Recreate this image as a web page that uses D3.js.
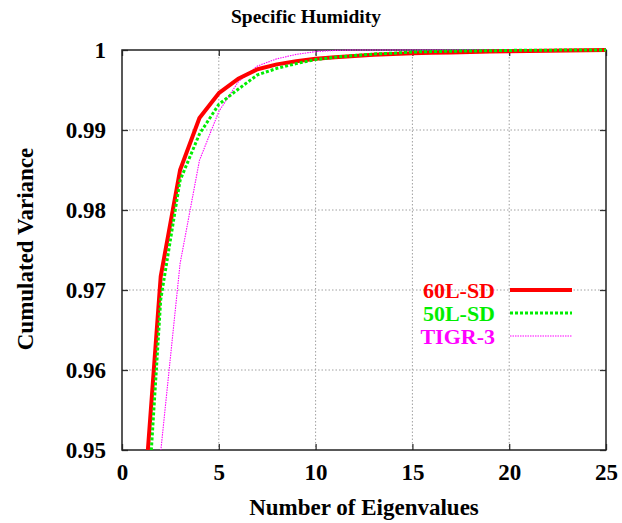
<!DOCTYPE html>
<html><head><meta charset="utf-8">
<script src="https://cdn.jsdelivr.net/npm/d3@7"></script>
<style>body{margin:0;background:#fff}svg{display:block}text{font-family:"Liberation Serif","Times New Roman",serif;font-weight:bold}</style>
</head><body><svg id="c" width="622" height="523"></svg>
<script>
const eigen = d3.range(1, 26);
const sd60 = [0.939,0.9717,0.985,0.9915,0.9946,0.9964,0.9976,0.9982,0.9986,0.9989,0.9991,0.99925,0.9994,0.9995,0.9996,0.99965,0.9997,0.99975,0.9998,0.99985,0.99988,0.9999,0.99995,0.99998,1.0];
const sd50 = [0.930,0.9688,0.9837,0.9895,0.9932,0.9951,0.9969,0.9977,0.9983,0.9988,0.9991,0.9993,0.9995,0.9996,0.99975,0.9998,0.99985,0.99988,0.9999,0.99995,0.99997,0.99998,0.99999,1.0,1.0];
const tigr = [0.91,0.9498,0.9733,0.9862,0.9923,0.9960,0.9980,0.9989,0.99945,0.9998,0.99995,1,1,1,1,1,1,1,1,1,1,1,1,1,1];
const xTicks = [0,5,10,15,20,25];
const yTicks = [0.95,0.96,0.97,0.98,0.99,1];
const seriesNames = ["60L-SD","50L-SD","TIGR-3"];
const seriesColors = ["#ff0000","#00ee00","#ff00ff"];

const L=122,R=606,T=50,B=450;
const svg=d3.select("#c");
const x=d3.scaleLinear().domain([0,25]).range([L,R]);
const y=d3.scaleLinear().domain([0.95,1]).range([B,T]);

// grid
const g=svg.append("g");
g.selectAll(".gx").data(xTicks.slice(1,-1)).join("line")
 .attr("x1",d=>x(d)).attr("x2",d=>x(d)).attr("y1",T).attr("y2",B)
 .attr("stroke","#a0a0a0").attr("stroke-width",1).attr("stroke-dasharray","1.5,2");
g.selectAll(".gy").data(yTicks.slice(1,-1)).join("line")
 .attr("y1",d=>y(d)).attr("y2",d=>y(d)).attr("x1",L).attr("x2",R)
 .attr("stroke","#a0a0a0").attr("stroke-width",1).attr("stroke-dasharray","1.5,2");

// axes (inward ticks, mirrored)
const fs="23px";
const ax=svg.append("g").attr("transform",`translate(0,${B})`)
 .call(d3.axisBottom(x).tickValues(xTicks).tickSize(-6).tickPadding(16).tickFormat(d3.format("d")));
const axT=svg.append("g").attr("transform",`translate(0,${T})`)
 .call(d3.axisTop(x).tickValues(xTicks).tickSize(-6).tickFormat(""));
const ay=svg.append("g").attr("transform",`translate(${L},0)`)
 .call(d3.axisLeft(y).tickValues(yTicks).tickSize(-6).tickPadding(16).tickFormat(d=>d===1?"1":d3.format(".2f")(d)));
const ayR=svg.append("g").attr("transform",`translate(${R},0)`)
 .call(d3.axisRight(y).tickValues(yTicks).tickSize(-6).tickFormat(""));
[ax,axT,ay,ayR].forEach(a=>{a.select(".domain").remove();a.selectAll("line").attr("stroke","#333").attr("stroke-width",1.3);
 a.selectAll("text").attr("font-size",fs).attr("fill","#000").attr("font-family","Liberation Serif").attr("font-weight","bold");});
ax.selectAll("text").attr("dy","0.6em");

svg.append("rect").attr("x",L).attr("y",T).attr("width",R-L).attr("height",B-T)
 .attr("fill","none").attr("stroke","#222").attr("stroke-width",1.5);

// clip
svg.append("clipPath").attr("id","clip").append("rect").attr("x",L).attr("y",T-3).attr("width",R-L).attr("height",B-T+3);
const line=d3.line().x((d,i)=>x(eigen[i])).y(d=>y(d));
const lg=svg.append("g").attr("clip-path","url(#clip)");
const styles=[{w:4,dash:null},{w:3,dash:"3,2"},{w:1.1,dash:"1.5,1"}];
const data=[sd60,sd50,tigr];
[2,0,1].forEach(k=>{
 lg.append("path").attr("d",line(data[k])).attr("fill","none").attr("stroke",seriesColors[k])
  .attr("stroke-width",styles[k].w).attr("stroke-dasharray",styles[k].dash).attr("stroke-linejoin","round");
});

// legend
const legY=[290,313,336];
seriesNames.forEach((n,k)=>{
 svg.append("text").attr("x",495).attr("y",legY[k]).attr("dy","0.35em").attr("text-anchor","end")
  .attr("font-size","22px").attr("fill",seriesColors[k]).text(n);
 svg.append("line").attr("x1",510).attr("x2",572).attr("y1",legY[k]).attr("y2",legY[k])
  .attr("stroke",seriesColors[k]).attr("stroke-width",styles[k].w).attr("stroke-dasharray",styles[k].dash);
});

// titles
svg.append("text").attr("x",306).attr("y",23).attr("text-anchor","middle").attr("font-size","19.5px").text("Specific Humidity");
svg.append("text").attr("x",364).attr("y",515).attr("text-anchor","middle").attr("font-size",fs).text("Number of Eigenvalues");
svg.append("text").attr("transform","translate(33,249) rotate(-90)").attr("text-anchor","middle").attr("font-size",fs).text("Cumulated Variance");
</script></body></html>
